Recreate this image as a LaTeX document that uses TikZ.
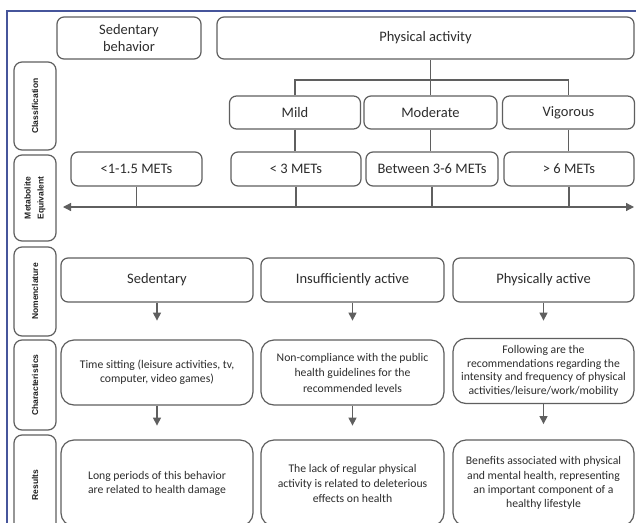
\documentclass[tikz,border=0pt]{standalone}
\usepackage{fontspec}
\setmainfont{Carlito}
\newfontfamily\labfont{Liberation Sans}
\usetikzlibrary{arrows.meta}
\definecolor{frameblue}{RGB}{70,85,155}
\definecolor{boxgray}{RGB}{95,95,95}
\definecolor{txtgray}{RGB}{45,45,45}
\begin{document}
\begin{tikzpicture}[x=1pt,y=-1pt,
  box/.style={draw=boxgray, line width=1.2pt, rounded corners=7pt, text=txtgray, inner sep=0pt, align=center, font=\fontsize{14.5}{17}\selectfont},
  tallbox/.style={box, rounded corners=13pt, font=\fontsize{11.7}{14}\selectfont},
  labbox/.style={draw=boxgray, line width=1.2pt, rounded corners=8pt, rotate=90, minimum height=42pt, inner sep=0pt, align=center, text=black!88, font=\labfont\bfseries\fontsize{8.5}{13}\selectfont},
  conn/.style={draw=boxgray, line width=1.2pt},
  tipconn/.style={conn, -{Triangle[length=8pt,width=8pt]}},
]
\useasboundingbox (0,0) rectangle (636,522);
\clip (0,0) rectangle (636,522);
\fill[white] (0,0) rectangle (636,522);
% frame
\draw[frameblue, line width=1.2pt] (7,540) -- (7,11) -- (640,11);

% row labels
\node[labbox, minimum width=88pt] (lcls) at (35,106) {Classification};
\node[labbox, minimum width=86pt] (lmet) at (35,198) {Metabolite\\Equivalent};
\node[labbox, minimum width=89pt] (lnom) at (35,291.5) {Nomenclature};
\node[labbox, minimum width=90pt] (lchr) at (35,385) {Characteristics};
\node[labbox, minimum width=100pt] (lres) at (35,485) {Results};

% top row
\node[box, minimum width=144pt, minimum height=42pt] (sedb) at (129,38) {Sedentary\\behavior};
\node[box, minimum width=417pt, minimum height=42pt] (pa) at (425.5,38) {Physical activity};

% classification
\node[box, minimum width=131pt, minimum height=33pt] (mild) at (295,112.5) {Mild};
\node[box, minimum width=133pt, minimum height=33pt] (mod) at (430.5,112.5) {Moderate};
\node[box, minimum width=132pt, minimum height=33pt] (vig) at (568.5,112.5) {Vigorous};

% METs
\node[box, minimum width=131pt, minimum height=34pt] (m0) at (136.5,169) {<1-1.5 METs};
\node[box, minimum width=130pt, minimum height=34pt] (m1) at (296,169) {< 3 METs};
\node[box, minimum width=132pt, minimum height=34pt] (m2) at (432,169) {Between 3-6 METs};
\node[box, minimum width=130pt, minimum height=34pt] (m3) at (569,169) {> 6 METs};

% branch lines
\coordinate (br) at (430,80);
\draw[conn] (mod.north) -- (mod.north |- pa.south);
\draw[conn] (mild.north) -- (mild.north |- br) -- (vig.north |- br) -- (vig.north);
\draw[conn] (mild.south) -- (mild.south |- m1.north);
\draw[conn] (mod.south) -- (mod.south |- m2.north);
\draw[conn] (vig.south) -- (vig.south |- m3.north);

% METs axis
\coordinate (al) at (63,207);
\coordinate (ar) at (634,207);
\draw[conn, {Triangle[length=8pt,width=8pt]}-{Triangle[length=8pt,width=8pt]}] (al) -- (ar);
\foreach \n in {m0,m1,m2,m3} \draw[conn] (\n.south) -- (\n.south |- al);

% nomenclature
\node[box, minimum width=192pt, minimum height=44pt] (nsed) at (157,280) {Sedentary};
\node[box, minimum width=183pt, minimum height=44pt] (nins) at (352.5,280) {Insufficiently active};
\node[box, minimum width=181pt, minimum height=44pt] (nact) at (543.5,280) {Physically active};

% characteristics
\node[tallbox, minimum width=192pt, minimum height=65pt] (csed) at (157,372.5) {Time sitting (leisure activities, tv,\\computer, video games)};
\node[tallbox, minimum width=183pt, minimum height=65pt, font=\fontsize{11.7}{15.5}\selectfont] (cins) at (352.5,372.5) {Non-compliance with the public\\health guidelines for the\\recommended levels};
\node[tallbox, minimum width=181pt, minimum height=65pt, font=\fontsize{11.7}{13.5}\selectfont] (cact) at (543.5,371) {Following are the\\recommendations regarding the\\intensity and frequency of physical\\activities/leisure/work/mobility};

% results
\node[tallbox, minimum width=192pt, minimum height=86pt] (rsed) at (157,483) {Long periods of this behavior\\are related to health damage};
\node[tallbox, minimum width=183pt, minimum height=86pt, font=\fontsize{11.7}{15}\selectfont] (rins) at (352.5,483) {The lack of regular physical\\activity is related to deleterious\\effects on health};
\node[tallbox, minimum width=181pt, minimum height=86pt, font=\fontsize{11.7}{14.2}\selectfont] (ract) at (543.5,483) {Benefits associated with physical\\and mental health, representing\\an important component of a\\healthy lifestyle};

% small arrows
\foreach \n in {nsed,nins,nact} \draw[tipconn] (\n.south) -- ++(0,18);
\foreach \n in {csed,cins,cact} \draw[tipconn] (\n.south) -- ++(0,20);
\end{tikzpicture}
\end{document}
